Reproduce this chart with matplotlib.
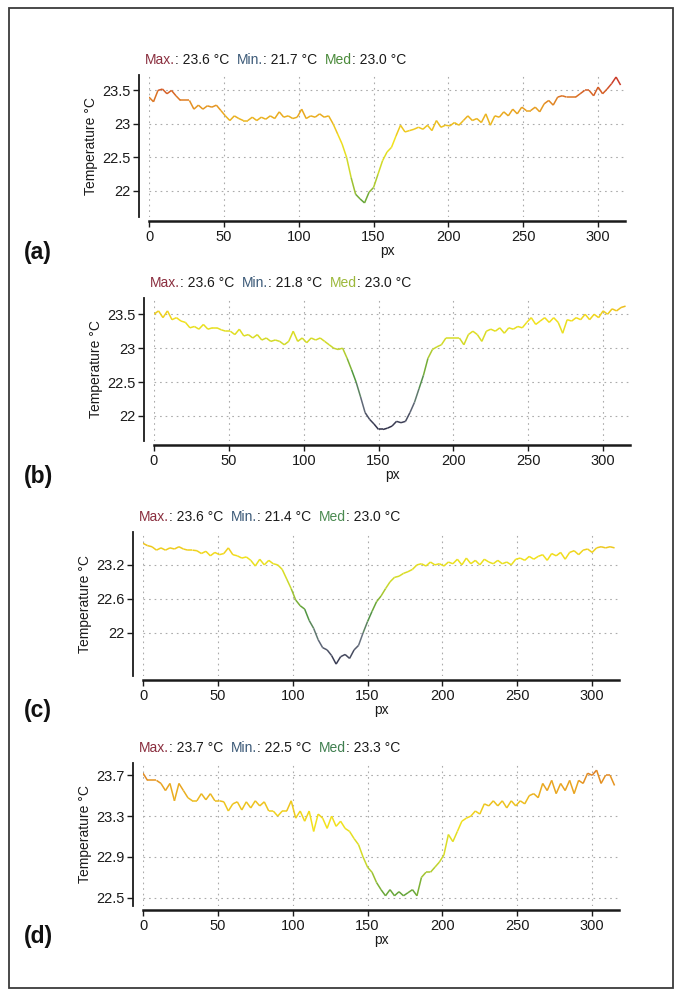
import numpy as np
import matplotlib
matplotlib.use("Agg")
import matplotlib.pyplot as plt
from matplotlib.collections import LineCollection
from matplotlib.colors import LinearSegmentedColormap, Normalize
from matplotlib.patches import Rectangle

plt.rcParams['font.family'] = ['Liberation Sans', 'DejaVu Sans']

# posicao ao longo do perfil (px), uma amostra a cada 3 px
px = list(range(0, 316, 3))

temp_a = [23.40, 23.33, 23.50, 23.52, 23.45, 23.50, 23.42, 23.35, 23.35, 23.35,
          23.22, 23.28, 23.22, 23.27, 23.25, 23.28, 23.20, 23.12, 23.05, 23.12,
          23.08, 23.05, 23.05, 23.10, 23.05, 23.10, 23.07, 23.12, 23.08, 23.18,
          23.10, 23.12, 23.08, 23.10, 23.22, 23.08, 23.12, 23.10, 23.15, 23.10,
          23.12, 23.00, 22.85, 22.70, 22.50, 22.20, 21.95, 21.88, 21.82, 21.98,
          22.05, 22.25, 22.45, 22.58, 22.65, 22.82, 22.98, 22.88, 22.90, 22.92,
          22.95, 22.92, 22.98, 22.90, 23.05, 22.95, 22.98, 22.97, 23.02, 22.98,
          23.05, 23.12, 23.05, 23.08, 23.02, 23.15, 22.98, 23.12, 23.10, 23.18,
          23.12, 23.22, 23.15, 23.25, 23.20, 23.20, 23.25, 23.18, 23.30, 23.35,
          23.28, 23.40, 23.42, 23.40, 23.40, 23.40, 23.45, 23.50, 23.50, 23.42,
          23.55, 23.45, 23.52, 23.60, 23.70, 23.58]

temp_b = [23.50, 23.55, 23.45, 23.55, 23.42, 23.45, 23.40, 23.38, 23.30, 23.32,
          23.28, 23.35, 23.28, 23.30, 23.30, 23.27, 23.25, 23.25, 23.20, 23.28,
          23.18, 23.20, 23.15, 23.20, 23.12, 23.15, 23.10, 23.12, 23.10, 23.05,
          23.10, 23.25, 23.10, 23.15, 23.08, 23.15, 23.12, 23.15, 23.10, 23.05,
          23.00, 22.98, 23.00, 22.85, 22.68, 22.50, 22.28, 22.05, 21.95, 21.88,
          21.80, 21.80, 21.82, 21.85, 21.92, 21.90, 21.92, 22.05, 22.20, 22.40,
          22.60, 22.85, 22.98, 23.02, 23.05, 23.15, 23.15, 23.15, 23.15, 23.05,
          23.20, 23.25, 23.20, 23.10, 23.25, 23.28, 23.25, 23.30, 23.22, 23.30,
          23.28, 23.32, 23.30, 23.38, 23.45, 23.35, 23.40, 23.45, 23.38, 23.45,
          23.38, 23.22, 23.42, 23.40, 23.45, 23.42, 23.50, 23.42, 23.50, 23.45,
          23.55, 23.50, 23.58, 23.55, 23.60, 23.62]

temp_c = [23.58, 23.54, 23.52, 23.46, 23.50, 23.46, 23.50, 23.48, 23.52, 23.48,
          23.46, 23.46, 23.45, 23.40, 23.44, 23.36, 23.42, 23.38, 23.40, 23.50,
          23.38, 23.36, 23.32, 23.34, 23.28, 23.18, 23.30, 23.20, 23.28, 23.22,
          23.20, 23.12, 22.95, 22.78, 22.58, 22.48, 22.42, 22.22, 22.08, 21.88,
          21.74, 21.70, 21.60, 21.45, 21.58, 21.62, 21.55, 21.70, 21.78, 22.00,
          22.20, 22.38, 22.55, 22.65, 22.78, 22.90, 22.98, 23.00, 23.05, 23.08,
          23.12, 23.20, 23.22, 23.18, 23.25, 23.20, 23.22, 23.18, 23.25, 23.22,
          23.30, 23.20, 23.32, 23.22, 23.28, 23.20, 23.30, 23.25, 23.22, 23.28,
          23.22, 23.25, 23.20, 23.30, 23.32, 23.28, 23.35, 23.30, 23.35, 23.38,
          23.28, 23.40, 23.36, 23.42, 23.30, 23.42, 23.45, 23.38, 23.46, 23.48,
          23.42, 23.50, 23.52, 23.50, 23.52, 23.50]

temp_d = [23.72, 23.65, 23.65, 23.65, 23.62, 23.55, 23.62, 23.45, 23.62, 23.55,
          23.48, 23.45, 23.45, 23.52, 23.46, 23.52, 23.45, 23.45, 23.44, 23.35,
          23.42, 23.44, 23.36, 23.44, 23.38, 23.45, 23.40, 23.44, 23.35, 23.35,
          23.30, 23.35, 23.35, 23.45, 23.28, 23.35, 23.25, 23.35, 23.15, 23.32,
          23.28, 23.18, 23.30, 23.20, 23.25, 23.18, 23.15, 23.08, 23.02, 22.90,
          22.80, 22.75, 22.65, 22.58, 22.52, 22.58, 22.52, 22.56, 22.52, 22.55,
          22.58, 22.52, 22.70, 22.75, 22.75, 22.80, 22.85, 22.92, 23.12, 23.05,
          23.15, 23.25, 23.28, 23.30, 23.35, 23.32, 23.42, 23.40, 23.45, 23.40,
          23.45, 23.38, 23.45, 23.40, 23.45, 23.42, 23.50, 23.52, 23.48, 23.62,
          23.55, 23.65, 23.52, 23.62, 23.55, 23.65, 23.52, 23.65, 23.62, 23.72,
          23.70, 23.75, 23.62, 23.70, 23.70, 23.60]

panel_labels = ["(a)", "(b)", "(c)", "(d)"]
stat_max = [23.6, 23.6, 23.6, 23.7]
stat_min = [21.7, 21.8, 21.4, 22.5]
stat_med = [23.0, 23.0, 23.0, 23.3]
yticks = [[22, 22.5, 23, 23.5],
          [22, 22.5, 23, 23.5],
          [22, 22.6, 23.2],
          [22.5, 22.9, 23.3, 23.7]]
xticks = [0, 50, 100, 150, 200, 250, 300]
profiles = [temp_a, temp_b, temp_c, temp_d]

# layout em pixels da pagina (679x990)
W, H = 679, 990
# x0 do eixo, topo, base, limites y, faixa de cor, cor do "Med"
layout = [
    (149, 75, 217, (21.61, 23.73), (20.8, 23.7), '#4a8a3a'),
    (154, 298, 441, (21.63, 23.74), (21.8, 24.2), '#9cb83a'),
    (143, 532, 676, (21.24, 23.78), (21.4, 24.3), '#4a8a50'),
    (143, 763, 906, (22.42, 23.82), (21.7, 24.0), '#3f7f4f'),
]
label_y = [252, 476, 711, 937]
xscale = 1.497
xmax = 318

cmap = LinearSegmentedColormap.from_list(
    'thermo', ['#2e2e48', '#66707e', '#4f9a3c', '#c8d82c', '#f2e21c', '#e8a020', '#c8302a'])

fig = plt.figure(figsize=(W / 100, H / 100), dpi=100)
fig.patch.set_facecolor('white')

for i in range(4):
    x0, top, bottom, ylim, crange, med_color = layout[i]
    ax = fig.add_axes([x0 / W, 1 - bottom / H, xmax * xscale / W, (bottom - top) / H])
    x = np.array(px, dtype=float)
    y = np.array(profiles[i])
    pts = np.column_stack([x, y]).reshape(-1, 1, 2)
    segs = np.concatenate([pts[:-1], pts[1:]], axis=1)
    norm = Normalize(crange[0], crange[1])
    lc = LineCollection(segs, colors=cmap(norm((y[:-1] + y[1:]) / 2)), linewidths=1.1, zorder=3)
    ax.add_collection(lc)
    ax.set_xlim(0, xmax)
    ax.set_ylim(*ylim)

    ax.set_xticks(xticks)
    ax.set_yticks(yticks[i])
    ax.set_yticklabels(['%g' % v for v in yticks[i]])
    ax.grid(True, color='#ababab', linestyle=(0, (1.5, 3.5)), linewidth=0.8, zorder=0)
    ax.spines['top'].set_visible(False)
    ax.spines['right'].set_visible(False)
    ax.spines['left'].set_position(('outward', 7))
    ax.spines['bottom'].set_position(('outward', 3))
    ax.spines['left'].set_linewidth(1.3)
    ax.spines['bottom'].set_linewidth(1.8)
    ax.spines['left'].set_color('#1a1a1a')
    ax.spines['bottom'].set_color('#1a1a1a')
    ax.tick_params(direction='out', length=4, width=1, labelsize=10.5, colors='#1a1a1a', pad=2.5)
    ax.set_xlabel('px', fontsize=10, color='#1a1a1a', labelpad=0)
    ax.set_ylabel('Temperature °C', fontsize=10, color='#1a1a1a', labelpad=3)

    # titulo colorido "Max.: ... Min.: ... Med: ..."
    parts = [("Max.", '#8a2e3e'), (": %.1f °C  " % stat_max[i], '#1a1a1a'),
             ("Min.", '#3c5a78'), (": %.1f °C  " % stat_min[i], '#1a1a1a'),
             ("Med", med_color), (": %.1f °C" % stat_med[i], '#1a1a1a')]
    prev = ax.annotate(parts[0][0], xy=(0, 1), xycoords='axes fraction', xytext=(-3, 6),
                       textcoords='offset points', ha='left', va='bottom',
                       fontsize=10, color=parts[0][1])
    for txt, col in parts[1:]:
        prev = ax.annotate(txt, xy=(1, 0), xycoords=prev, ha='left', va='bottom',
                           fontsize=10, color=col)

    fig.text(24 / W, 1 - label_y[i] / H, panel_labels[i], fontsize=16.5, fontweight='bold',
             ha='left', va='center', color='#111111')

# moldura da pagina
fig.add_artist(Rectangle((9 / W, 1 - 988 / H), (673 - 9) / W, (988 - 8) / H,
                         transform=fig.transFigure, fill=False, ec='#3a3a3a', lw=1.3))

fig.savefig('out.png', dpi=100)
